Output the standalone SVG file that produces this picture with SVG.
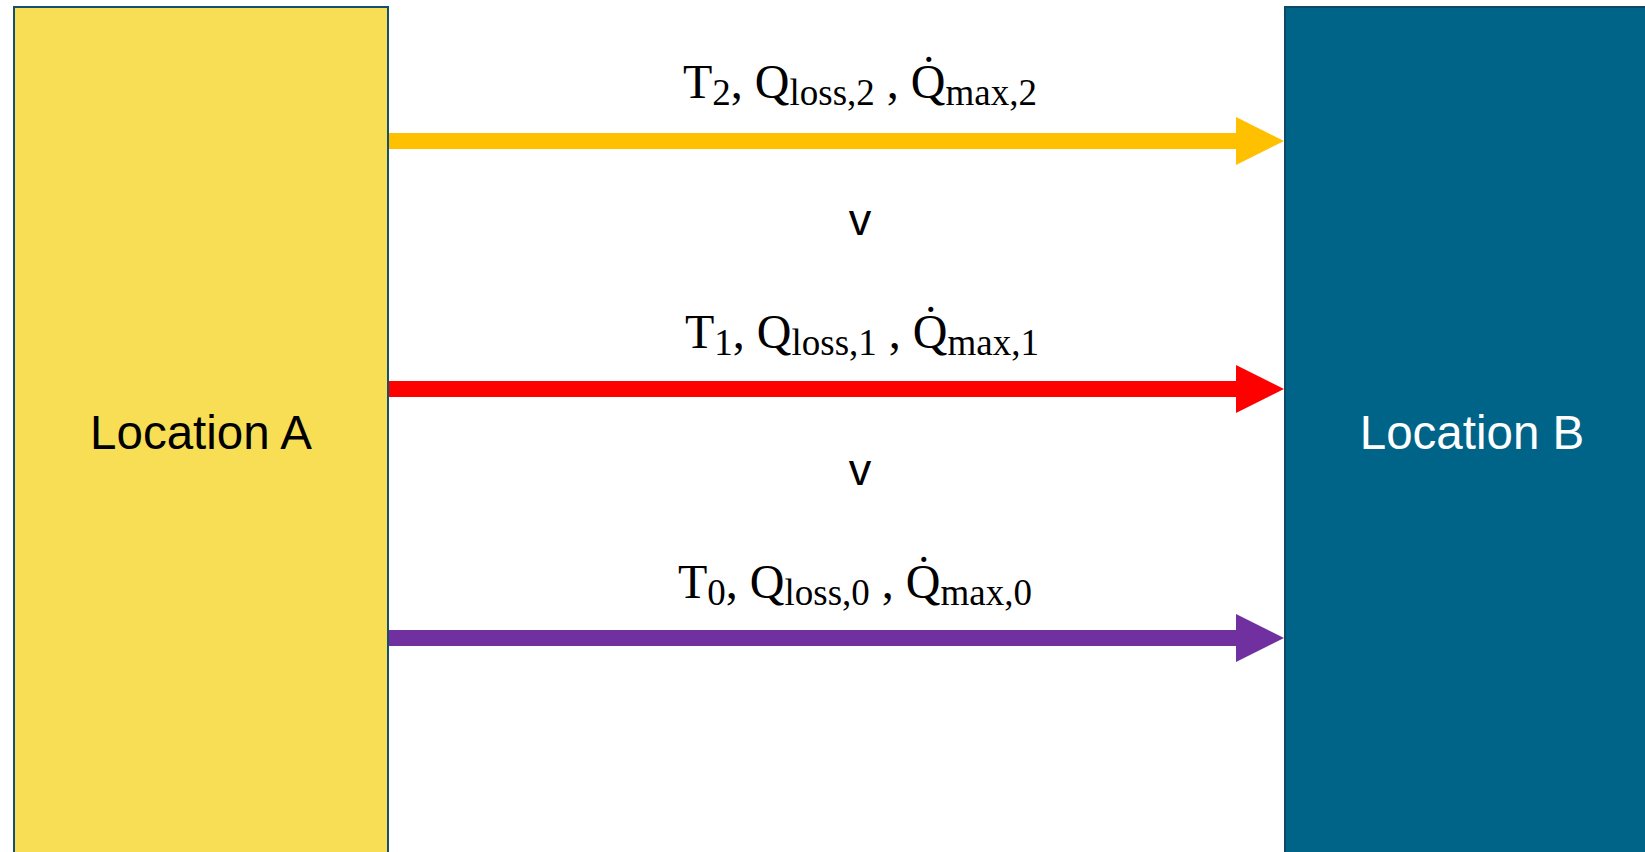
<svg xmlns="http://www.w3.org/2000/svg" width="1645" height="852" viewBox="0 0 1645 852">
<style>
.loc{font-family:"Liberation Sans",Arial,sans-serif;font-size:47.5px;text-anchor:middle}
.math{font-family:"Liberation Serif","Times New Roman",serif;font-size:48px;fill:#000}
.sub{font-size:37px}
.v{font-family:"Liberation Sans",Arial,sans-serif;font-size:45px;text-anchor:middle;fill:#000}
.shaft{stroke-width:16;fill:none}
</style>
<defs>
<marker id="hY" markerUnits="userSpaceOnUse" markerWidth="48" markerHeight="48" refX="2" refY="24" orient="auto"><path d="M0,0 L48,24 L0,48 Z" fill="#FFC000"/></marker>
<marker id="hR" markerUnits="userSpaceOnUse" markerWidth="48" markerHeight="48" refX="2" refY="24" orient="auto"><path d="M0,0 L48,24 L0,48 Z" fill="#FF0000"/></marker>
<marker id="hP" markerUnits="userSpaceOnUse" markerWidth="48" markerHeight="48" refX="2" refY="24" orient="auto"><path d="M0,0 L48,24 L0,48 Z" fill="#7030A0"/></marker>
</defs>
<rect width="1645" height="852" fill="#fff"/>
<g id="locA">
<rect x="14" y="7" width="374" height="860" fill="#F7DE55" stroke="#15506E" stroke-width="2"/>
<text class="loc" x="201" y="449" fill="#000">Location A</text>
</g>
<g id="locB">
<rect x="1285" y="7" width="370" height="860" fill="#006489" stroke="#0D4A66" stroke-width="2"/>
<text class="loc" x="1472" y="449" fill="#fff">Location B</text>
</g>
<g id="connectors">
<line class="shaft" x1="389" y1="141" x2="1238" y2="141" stroke="#FFC000" marker-end="url(#hY)"/>
<line class="shaft" x1="389" y1="389" x2="1238" y2="389" stroke="#FF0000" marker-end="url(#hR)"/>
<line class="shaft" x1="389" y1="638" x2="1238" y2="638" stroke="#7030A0" marker-end="url(#hP)"/>
</g>
<g id="labels">
<text class="math" x="683" y="98">T<tspan class="sub" dy="7">2</tspan><tspan dy="-7">, Q</tspan><tspan class="sub" dy="7">loss,2</tspan><tspan dy="-7"> , Q̇</tspan><tspan class="sub" dy="7">max,2</tspan></text>
<text class="math" x="685" y="348">T<tspan class="sub" dy="7">1</tspan><tspan dy="-7">, Q</tspan><tspan class="sub" dy="7">loss,1</tspan><tspan dy="-7"> , Q̇</tspan><tspan class="sub" dy="7">max,1</tspan></text>
<text class="math" x="678" y="598">T<tspan class="sub" dy="7">0</tspan><tspan dy="-7">, Q</tspan><tspan class="sub" dy="7">loss,0</tspan><tspan dy="-7"> , Q̇</tspan><tspan class="sub" dy="7">max,0</tspan></text>
<text class="v" x="860" y="235">v</text>
<text class="v" x="860" y="485">v</text>
</g>
</svg>
